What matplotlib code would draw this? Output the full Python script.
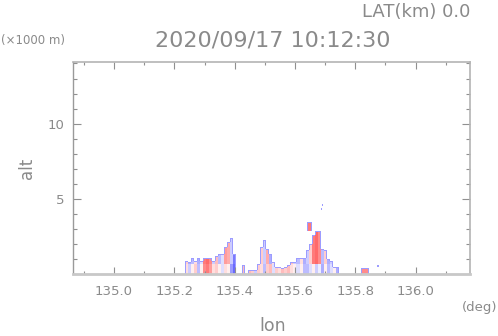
import numpy as np
import matplotlib
matplotlib.use("Agg")
import matplotlib.pyplot as plt
from matplotlib.colors import LinearSegmentedColormap

# ---- data ----
col_lon0 = 135.24          # first column longitude
col_step = 0.01            # column width (deg)
col_top = [0.9, 0.8, 1.1, 0.9, 1.1, 0.9, 1.1, 1.1, 1.1, 0.9,
           1.2, 1.3, 1.3, 1.8, 2.1, 2.4, 1.3, 0.0, 0.0, 0.6,
           0.0, 0.3, 0.3, 0.3, 0.7, 1.8, 2.3, 1.7, 1.3, 0.8,
           0.5, 0.5, 0.4, 0.5, 0.6, 0.8, 0.8, 1.1, 1.1, 1.1,
           1.6, 2.0, 2.6, 2.85, 2.9, 1.7, 1.6, 1.0, 0.9, 0.5, 0.5]
# value above split altitude (upper part of each column)
col_val = [0.3, -0.5, -0.4, 0.2, -0.5, -0.2, 0.8, 0.9, 0.7, -0.3,
           0.4, -0.4, -0.2, 0.6, 0.5, -0.3, -0.8, 0.0, 0.0, 0.2,
           0.0, 0.3, 0.5, -0.2, 0.4, 0.3, -0.3, 0.5, -0.5, 0.2,
           0.4, 0.3, -0.2, 0.5, 0.6, 0.4, -0.3, -0.4, 0.2, -0.5,
           -0.3, 0.3, 0.8, 0.9, 0.7, -0.4, 0.3, -0.5, -0.3, 0.2, -0.6]
# value below split altitude (lower part of each column)
col_low = [0.2, -0.3, 0.1, 0.3, -0.4, 0.1, 0.7, 0.8, 0.6, 0.2,
           0.3, 0.1, -0.2, 0.2, 0.1, -0.6, -0.9, 0.0, 0.0, 0.4,
           0.0, 0.4, 0.3, -0.3, 0.3, 0.2, -0.4, 0.3, 0.4, -0.2,
           0.3, 0.2, 0.4, 0.3, 0.4, 0.2, 0.1, -0.2, 0.1, -0.4,
           -0.4, -0.2, 0.1, -0.3, -0.1, -0.5, 0.1, -0.4, -0.2, 0.1, -0.5]
split_alt = 0.7
# isolated echoes: lon_start, lon_end, alt_low, alt_high, value
blob_lon0 = [135.640, 135.686, 135.689, 135.820, 135.872]
blob_lon1 = [135.655, 135.690, 135.693, 135.845, 135.877]
blob_alt0 = [2.9, 4.3, 4.55, 0.0, 0.5]
blob_alt1 = [3.45, 4.4, 4.7, 0.4, 0.6]
blob_val = [0.8, -0.8, -0.8, 0.7, -0.8]
edge_val = -0.6

title = "2020/09/17 10:12:30"
lat_text = "LAT(km) 0.0"
xticks = [135.0, 135.2, 135.4, 135.6, 135.8, 136.0]
yticks = [5, 10]

# ---- grid (about 1 px per cell) ----
sub = 3
n_cols = 67
dlon = col_step / sub
lon_edges = col_lon0 - col_step / 2 + dlon * np.arange(n_cols * sub + 1)
dalt = 1.0 / 15.0
alt_edges = dalt * np.arange(76)
lon_c = 0.5 * (lon_edges[:-1] + lon_edges[1:])
alt_c = 0.5 * (alt_edges[:-1] + alt_edges[1:])
grid = np.full((len(alt_c), len(lon_c)), np.nan)

for j, (h, v, vl) in enumerate(zip(col_top, col_val, col_low)):
    grid[alt_c < h, j * sub:(j + 1) * sub] = v
    grid[(alt_c < h) & (alt_c < split_alt), j * sub:(j + 1) * sub] = vl
for a, b, c, d, v in zip(blob_lon0, blob_lon1, blob_alt0, blob_alt1, blob_val):
    cm = (lon_c >= a) & (lon_c < b)
    rm = (alt_c >= c) & (alt_c < d)
    grid[np.ix_(rm, cm)] = v

present = ~np.isnan(grid)
up = np.zeros_like(present); up[:-1] = present[1:]
lf = np.zeros_like(present); lf[:, 1:] = present[:, :-1]
rt = np.zeros_like(present); rt[:, :-1] = present[:, 1:]
edge = present & (~up | ~lf | ~rt)
grid[edge] = edge_val
grid = np.ma.masked_invalid(grid)

cmap = LinearSegmentedColormap.from_list("rwb", ["#5a5aff", "#ffffff", "#ff5a5a"])

# ---- figure ----
fig = plt.figure(figsize=(4.98, 3.36), dpi=100)
ax = fig.add_axes([0.1466, 0.1845, 0.797, 0.631])
ax.pcolormesh(lon_edges, alt_edges, grid, cmap=cmap, vmin=-1, vmax=1,
              shading="flat", edgecolors="none", antialiased=False)
ax.set_xlim(134.864, 136.18)
ax.set_ylim(0, 14.1)

tc = "#8a8a8a"
for s in ax.spines.values():
    s.set_color("#b4b4b4")
    s.set_linewidth(1.2)
ax.spines["bottom"].set_linewidth(2.0)
ax.spines["bottom"].set_color("#c8c8c8")
ax.spines["left"].set_color("#9a9a9a")
ax.spines["left"].set_linewidth(1.0)

ax.set_xticks(xticks)
ax.set_xticklabels([f"{v:.1f}" for v in xticks])
ax.set_xticks(np.arange(134.9, 136.15, 0.1), minor=True)
ax.set_yticks(yticks)
ax.set_yticklabels([str(v) for v in yticks])
ax.set_yticks(np.arange(1, 15, 1), minor=True)
ax.tick_params(which="both", direction="in", top=True, right=True,
               color="#909090", labelcolor=tc, labelsize=9.5, width=0.8)
ax.tick_params(axis="x", which="major", length=5, pad=8)
ax.tick_params(axis="x", which="minor", length=2.2)
ax.tick_params(axis="y", which="major", length=5.5, pad=6)
ax.tick_params(axis="y", which="minor", length=3)

fig.text(0.548, 0.880, title, ha="center", va="center", fontsize=16, color=tc)
fig.text(0.944, 0.963, lat_text, ha="right", va="center", fontsize=13, color=tc)
fig.text(0.002, 0.880, "(×1000 m)", ha="left", va="center", fontsize=8.5, color=tc)
fig.text(0.055, 0.50, "alt", ha="center", va="center", rotation=90, fontsize=12, color=tc)
fig.text(0.998, 0.086, "(deg)", ha="right", va="center", fontsize=9.5, color=tc)
fig.text(0.547, 0.030, "lon", ha="center", va="center", fontsize=12.5, color=tc)

fig.savefig("out.png", dpi=100)
